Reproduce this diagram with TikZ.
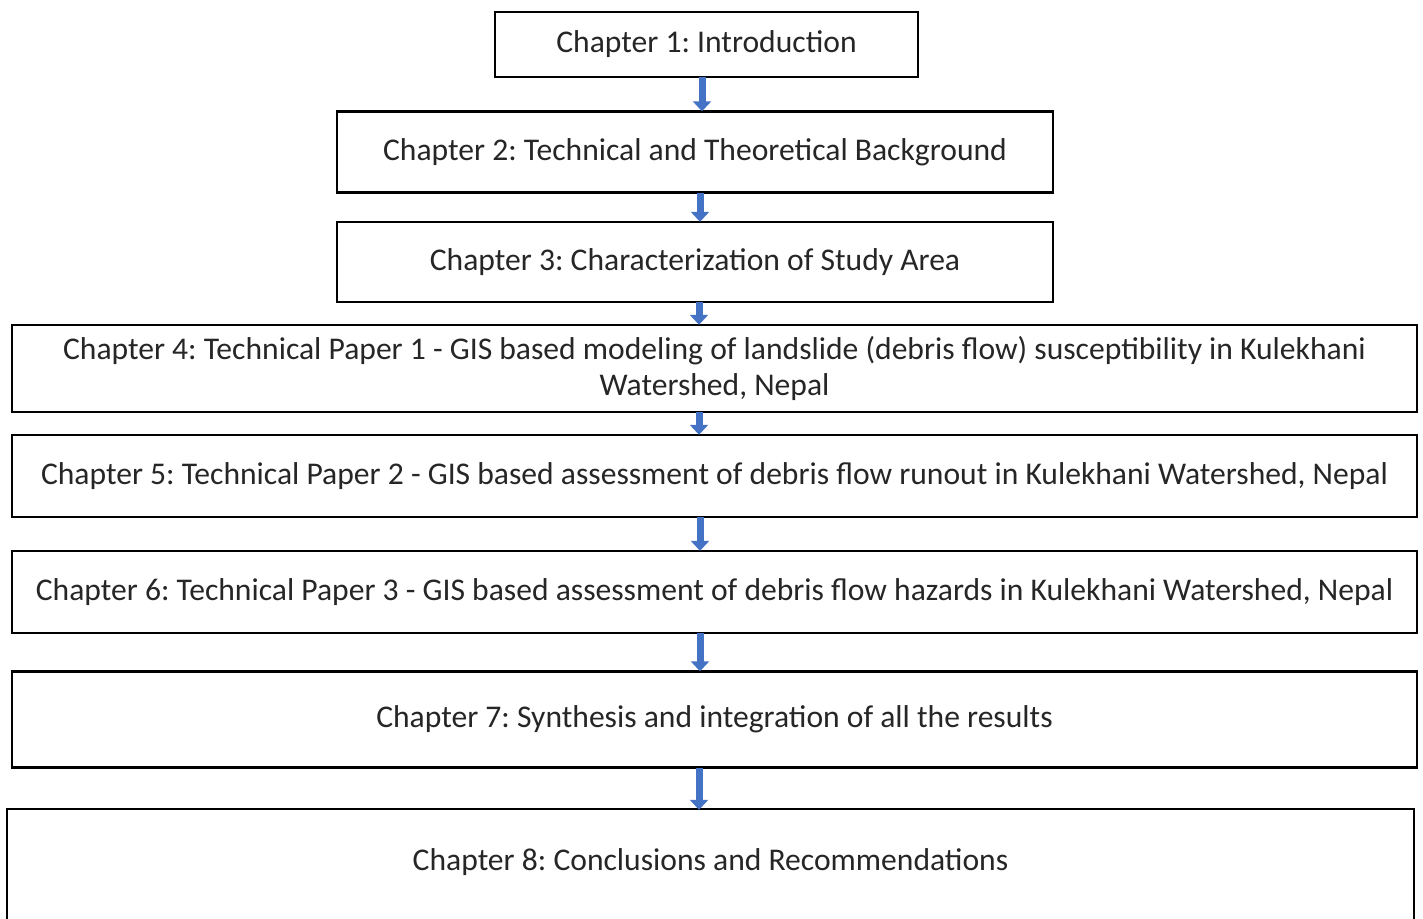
\documentclass[tikz,border=0pt]{standalone}
\usepackage{fontspec}
\setmainfont{Carlito}
\usetikzlibrary{arrows.meta}
\definecolor{arrowblue}{HTML}{4472C4}
\frenchspacing
\tikzset{
  boxline/.style={draw=black, line width=2.4pt},
  chapbox/.style={boxline, fill=white, inner sep=0pt, align=center,
    font=\fontsize{31.6}{36}\selectfont, text=black!85},
  flowarrow/.style={draw=arrowblue, line width=7pt,
    -{Triangle[width=18pt,length=10pt]}, shorten >=-1pt, shorten <=-1pt}
}
\begin{document}
\frenchspacing
\begin{tikzpicture}[x=1pt,y=-1pt]
\useasboundingbox (0,0) rectangle (1423,918);
\node[chapbox, minimum width=423pt, minimum height=65pt] (c1) at (706.5,44.5) {Chapter 1: Introduction};
\node[chapbox, minimum width=716pt, minimum height=81pt] (c2) at (695,152) {Chapter 2: Technical and Theoretical Background};
\node[chapbox, minimum width=716pt, minimum height=80pt] (c3) at (695,262) {Chapter 3: Characterization of Study Area};
\node[chapbox, minimum width=1405pt, minimum height=87pt] (c4) at (714.5,368.5) {Chapter 4: Technical Paper 1 - GIS based modeling of landslide (debris flow) susceptibility in Kulekhani\\Watershed, Nepal};
\node[chapbox, minimum width=1405pt, minimum height=82pt] (c5) at (714.5,476) {Chapter 5: Technical Paper 2 - GIS based assessment of debris flow runout in Kulekhani Watershed, Nepal};
\node[chapbox, minimum width=1405pt, minimum height=82pt] (c6) at (714.5,592) {Chapter 6: Technical Paper 3 - GIS based assessment of debris flow hazards in Kulekhani Watershed, Nepal};
\node[chapbox, minimum width=1405pt, minimum height=96pt] (c7) at (714.5,719.5) {Chapter 7: Synthesis and integration of all the results};
\node[chapbox, draw=none, minimum width=1405pt, minimum height=104pt] (c8) at (710.5,862) {Chapter 8: Conclusions and Recommendations};
\draw[boxline] ([yshift=-30pt]c8.south west) |- (c8.north east) -- ([yshift=-30pt]c8.south east);
\coordinate (a1s) at (c1.south -| 702,0); \coordinate (a1e) at (c2.north -| 702,0);
\draw[flowarrow] (a1s) -- (a1e);
\coordinate (a2s) at (c2.south -| 700,0); \coordinate (a2e) at (c3.north -| 700,0);
\draw[flowarrow] (a2s) -- (a2e);
\coordinate (a3s) at (c3.south -| 699,0); \coordinate (a3e) at (c4.north -| 699,0);
\draw[flowarrow] (a3s) -- (a3e);
\coordinate (a4s) at (c4.south -| 699,0); \coordinate (a4e) at (c5.north -| 699,0);
\draw[flowarrow] (a4s) -- (a4e);
\coordinate (a5s) at (c5.south -| 700,0); \coordinate (a5e) at (c6.north -| 700,0);
\draw[flowarrow] (a5s) -- (a5e);
\coordinate (a6s) at (c6.south -| 700,0); \coordinate (a6e) at (c7.north -| 700,0);
\draw[flowarrow] (a6s) -- (a6e);
\coordinate (a7s) at (c7.south -| 699,0); \coordinate (a7e) at (c8.north -| 699,0);
\draw[flowarrow] (a7s) -- (a7e);
\end{tikzpicture}
\end{document}
